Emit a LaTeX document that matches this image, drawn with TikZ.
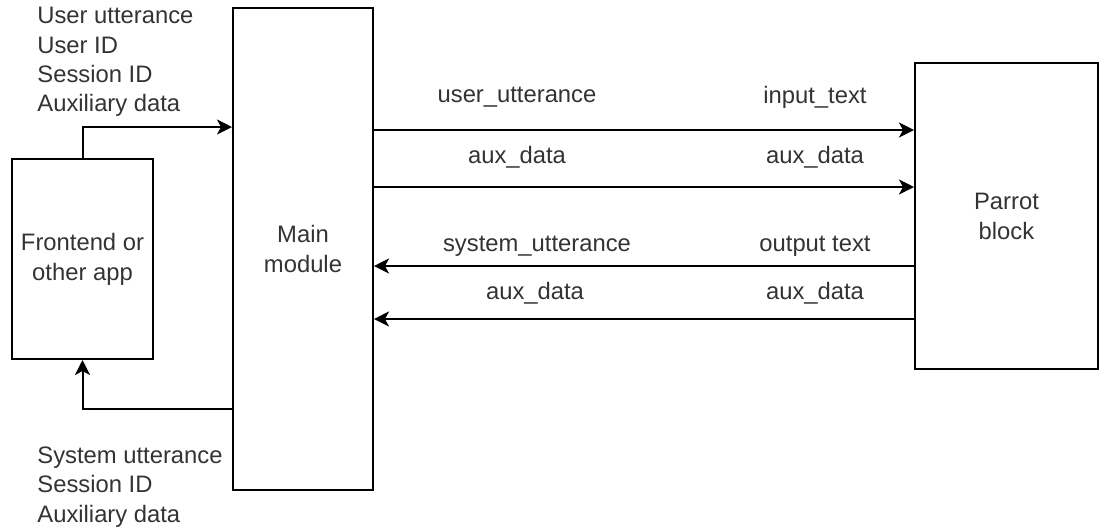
\documentclass[tikz,border=0pt]{standalone}
\usepackage{fontspec}
\setmainfont{Liberation Sans}
\usetikzlibrary{arrows.meta}
\definecolor{txtgray}{HTML}{333333}

\begin{document}
\begin{tikzpicture}[x=0.5pt,y=-0.5pt,
		blockbox/.style={draw,line width=1pt,inner sep=0pt,text=txtgray,align=center,
			font=\fontsize{11.9}{15}\selectfont},
		lbl/.style={inner sep=0pt,text=txtgray,font=\fontsize{11.9}{14.7}\selectfont},
		flow/.style={line width=1pt,-{Stealth[length=7.5pt,width=7.5pt,inset=2pt]}}]
		\useasboundingbox (0,0) rectangle (1100,527);
		% blocks
		\node[blockbox,minimum width=70.5pt,minimum height=100pt] (front) at (82.5,259) {Frontend or\\other app};
		\node[blockbox,minimum width=70pt,minimum height=241pt] (main) at (303,249) {Main\\module};
		\node[blockbox,minimum width=91.5pt,minimum height=153pt] (parrot) at (1006.5,216) {Parrot\\block};
		% frontend <-> main
		\coordinate (uin) at (233,127);
		\coordinate (sout) at (233,409);
		\draw [flow] (front.north) |- (main.west |- uin);
		\draw [flow] (main.west |- sout) -| (front.south);
		\node[lbl,anchor=west,align=left] (inlist) at (37,62) {User utterance\\User ID\\Session ID\\Auxiliary data};
		\node[lbl,anchor=west,align=left] (outlist) at (37,487) {System utterance\\Session ID\\Auxiliary data};
		% main <-> parrot
		\draw [flow] (main.east |- 0,130) -- (parrot.west |- 0,130);
		\draw [flow] (main.east |- 0,187) -- (parrot.west |- 0,187);
		\draw [flow] (parrot.west |- 0,266) -- (main.east |- 0,266);
		\draw [flow] (parrot.west |- 0,319) -- (main.east |- 0,319);
		\node[lbl] (uutt) at (517,97) {user\_utterance};
		\node[lbl] (itxt) at (815,97) {input\_text};
		\node[lbl] (aux1) at (517,157) {aux\_data};
		\node[lbl] (aux2) at (815,157) {aux\_data};
		\node[lbl] (sutt) at (537,246) {system\_utterance};
		\node[lbl] (otxt) at (815,246) {output text};
		\node[lbl] (aux3) at (535,293) {aux\_data};
		\node[lbl] (aux4) at (815,293) {aux\_data};
	\end{tikzpicture}
\end{document}
